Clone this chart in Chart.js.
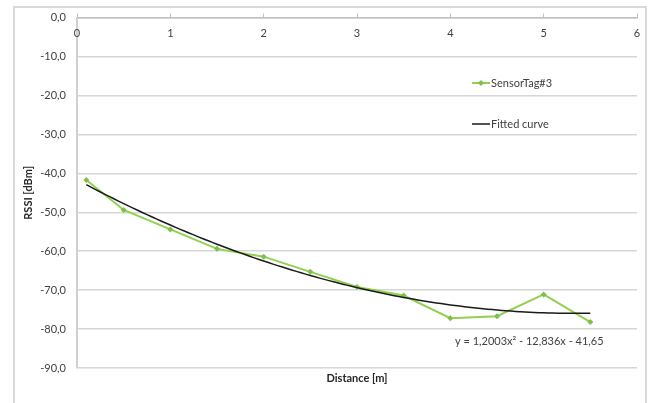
<!DOCTYPE html>
<html>
<head>
<meta charset="utf-8">
<script src="https://cdn.jsdelivr.net/npm/chart.js@4/dist/chart.umd.min.js"></script>
<style>
  body { margin: 0; background: #fff; overflow: hidden; }
  #frame { position: absolute; left: 13px; top: 6px; width: 630px; height: 420px; border: 2px solid #d9d9d9; }
  #wrap { position: absolute; left: 0; top: 0; width: 651px; height: 403px; }
</style>
</head>
<body>
<div id="frame"></div>
<div id="wrap"><canvas id="myChart" width="651" height="403"></canvas></div>
<script>
// measured RSSI for the tag, distance in metres
var distance = [0.1, 0.5, 1.0, 1.5, 2.0, 2.5, 3.0, 3.5, 4.0, 4.5, 5.0, 5.5];
var rssi = [-41.7, -49.4, -54.4, -59.4, -61.4, -65.3, -69.2, -71.4, -77.2, -76.7, -71.1, -78.2];

// second order trend line: y = a*x^2 + b*x + c
var fitCoef = [1.2003, -12.836, -41.65];
var fitLabel = 'y = 1,2003x² - 12,836x - 41,65';

var xTicks = [0, 1, 2, 3, 4, 5, 6];
var yTicks = [0, -10, -20, -30, -40, -50, -60, -70, -80, -90];

var seriesNames = ['SensorTag#3', 'Fitted curve'];

var green = '#92d050';
var font = 'Lato, "Open Sans", sans-serif';

var sensorPts = distance.map(function (d, i) { return { x: d, y: rssi[i] }; });
var fitPts = [];
for (var k = 0; k <= 108; k++) {
  var x = 0.1 + k * 0.05;
  fitPts.push({ x: x, y: fitCoef[0] * x * x + fitCoef[1] * x + fitCoef[2] });
}

function fmt(v) {
  return v.toFixed(1).replace('.', ',');
}

// axis titles, x tick labels under the top axis, legend and equation
var extras = {
  id: 'extras',
  afterDraw: function (chart) {
    var c = chart.ctx;
    var a = chart.chartArea;
    var xs = chart.scales.x;
    c.save();
    c.fillStyle = '#404040';
    c.font = '11px ' + font;
    c.textAlign = 'center';
    c.textBaseline = 'middle';
    xTicks.forEach(function (t) {
      c.fillText(String(t), xs.getPixelForValue(t), a.top + 16);
    });

    c.fillStyle = '#262626';
    c.font = 'bold 11px ' + font;
    c.fillText('Distance [m]', (a.left + a.right) / 2, 378);
    c.save();
    c.translate(28, (a.top + a.bottom) / 2);
    c.rotate(-Math.PI / 2);
    c.fillText('RSSI [dBm]', 0, 0);
    c.restore();

    // legend
    c.font = '11px ' + font;
    c.textAlign = 'left';
    c.strokeStyle = green;
    c.lineWidth = 2;
    c.beginPath(); c.moveTo(472, 83); c.lineTo(490, 83); c.stroke();
    c.fillStyle = '#7cc04a';
    c.beginPath(); c.moveTo(481, 80); c.lineTo(484, 83); c.lineTo(481, 86); c.lineTo(478, 83); c.closePath(); c.fill();
    c.fillStyle = '#404040';
    c.fillText(seriesNames[0], 491, 83);
    c.strokeStyle = '#1a1a1a';
    c.lineWidth = 1.5;
    c.beginPath(); c.moveTo(472, 124); c.lineTo(490, 124); c.stroke();
    c.fillText(seriesNames[1], 491, 124);

    c.fillText(fitLabel, 455, 341);
    c.restore();
  }
};

var ctx = document.getElementById('myChart').getContext('2d');
var chart = new Chart(ctx, {
  type: 'scatter',
  data: {
    datasets: [{
      label: seriesNames[0],
      data: sensorPts,
      showLine: true,
      borderColor: green,
      borderWidth: 2,
      backgroundColor: '#7cc04a',
      pointStyle: 'rectRot',
      pointRadius: 3,
      pointBorderWidth: 0,
      order: 2
    }, {
      label: seriesNames[1],
      data: fitPts,
      showLine: true,
      borderColor: '#1a1a1a',
      borderWidth: 1.5,
      pointRadius: 0,
      tension: 0,
      order: 1
    }]
  },
  options: {
    responsive: false,
    animation: false,
    layout: { padding: { left: 0, top: 0, right: 14, bottom: 35 } },
    plugins: { legend: { display: false }, tooltip: { enabled: false } },
    scales: {
      x: {
        type: 'linear',
        position: 'top',
        min: 0, max: 6,
        afterBuildTicks: function (s) { s.ticks = xTicks.map(function (v) { return { value: v }; }); },
        afterFit: function (s) { s.height = 16; },
        ticks: { display: false },
        grid: { drawOnChartArea: false, drawTicks: true, tickLength: 4, color: '#bfbfbf', lineWidth: 1 },
        border: { color: '#bfbfbf', width: 1.5 }
      },
      y: {
        min: -90, max: 0,
        afterBuildTicks: function (s) { s.ticks = yTicks.map(function (v) { return { value: v }; }); },
        afterFit: function (s) { s.width = 77; },
        ticks: {
          padding: 11,
          color: '#404040',
          font: { family: font, size: 11 },
          callback: function (v) { return fmt(v); }
        },
        grid: { color: '#d6d6d6', lineWidth: 1.5, drawTicks: false },
        border: { color: '#d0d0d0', width: 2 }
      }
    }
  },
  plugins: [extras]
});
</script>
</body>
</html>
